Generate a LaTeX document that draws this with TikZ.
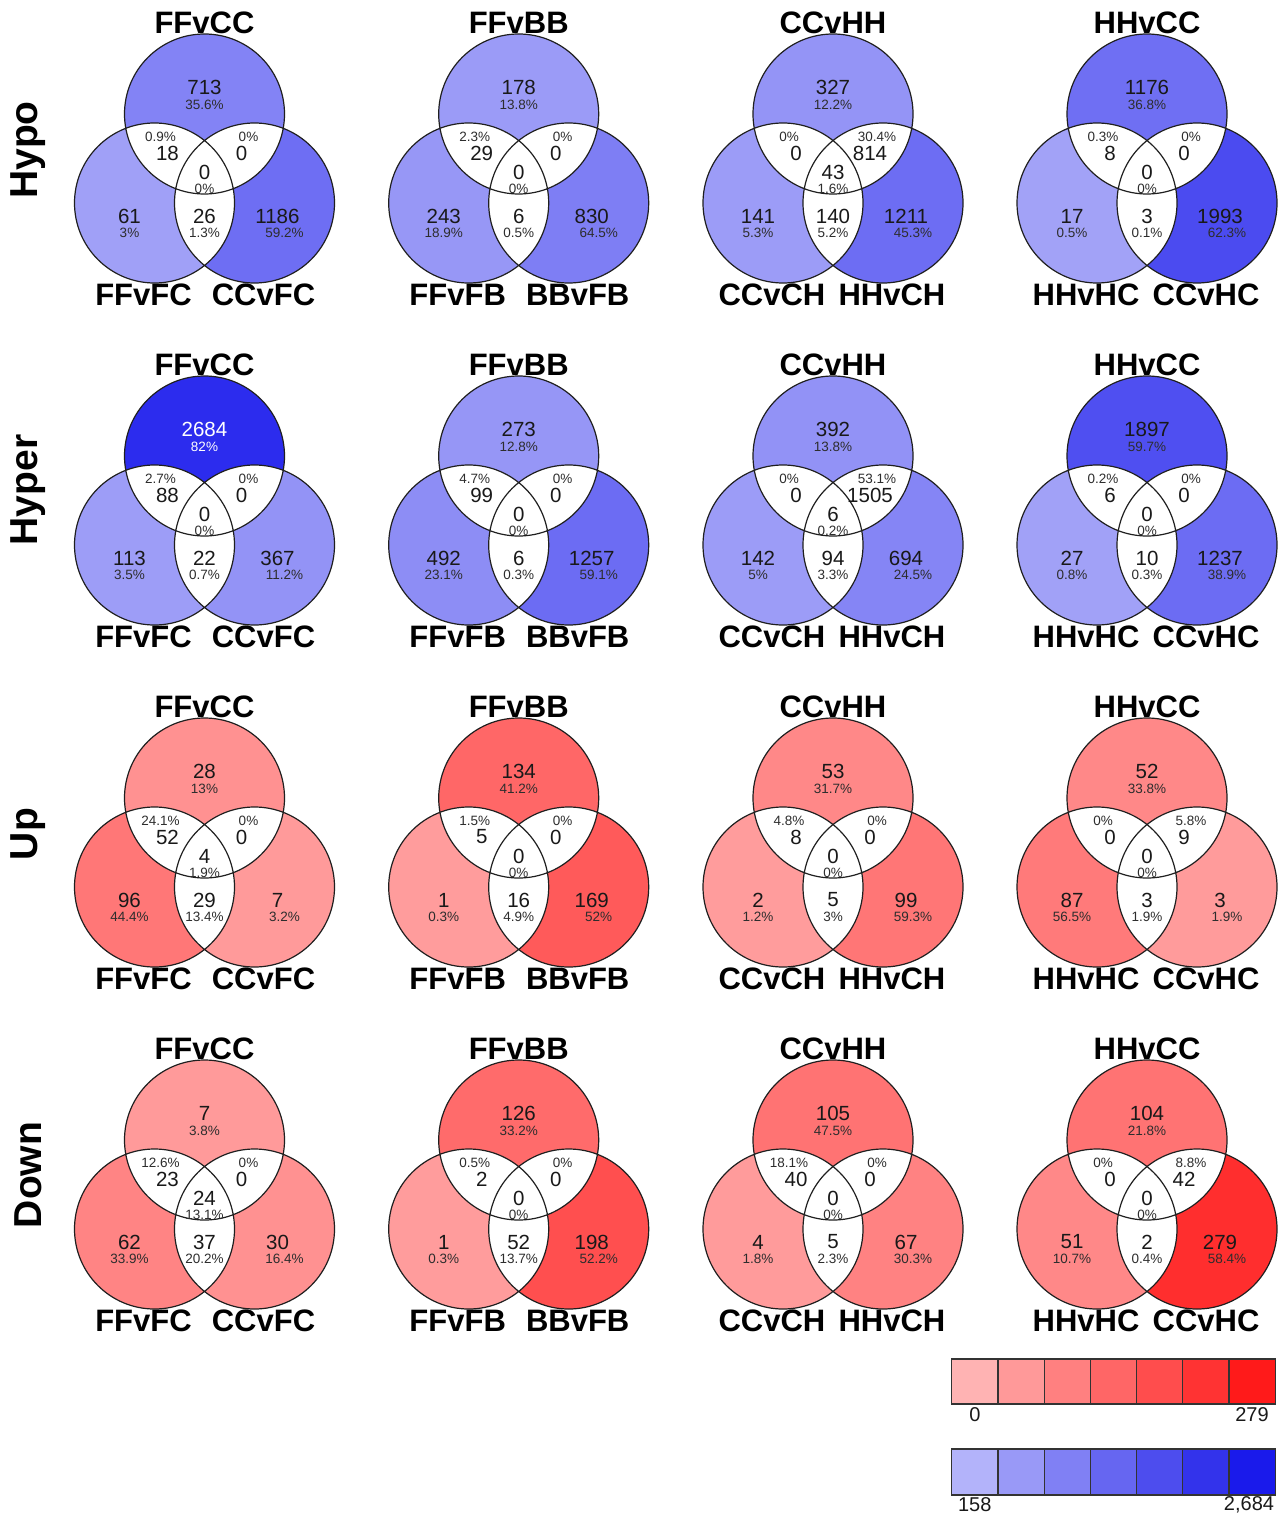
\documentclass[tikz,border=0pt]{standalone}
\usepackage{fontspec}
\setmainfont{Liberation Sans}
\definecolor{lob}{RGB}{162,162,247}
\definecolor{hib}{RGB}{44,44,238}
\definecolor{lor}{RGB}{255,156,156}
\definecolor{hir}{RGB}{255,46,46}
\definecolor{rA}{RGB}{255,179,179}
\definecolor{rB}{RGB}{255,153,153}
\definecolor{rC}{RGB}{255,128,128}
\definecolor{rD}{RGB}{255,102,102}
\definecolor{rE}{RGB}{255,77,77}
\definecolor{rF}{RGB}{255,51,51}
\definecolor{rG}{RGB}{255,26,26}
\definecolor{bA}{RGB}{179,179,250}
\definecolor{bB}{RGB}{153,153,247}
\definecolor{bC}{RGB}{128,128,244}
\definecolor{bD}{RGB}{102,102,241}
\definecolor{bE}{RGB}{77,77,238}
\definecolor{bF}{RGB}{51,51,235}
\definecolor{bG}{RGB}{26,26,235}
\definecolor{txt}{RGB}{25,25,25}
\definecolor{ptxt}{RGB}{45,45,45}
\begin{document}
\begin{tikzpicture}[x=1pt,y=-1pt,
  vline/.style={draw=black!88,line width=1.2pt},
  ttl/.style={inner sep=0pt,anchor=center,font=\fontsize{31}{36}\selectfont\bfseries,text=black},
  lab/.style={inner sep=0pt,anchor=center,font=\fontsize{31}{36}\selectfont\bfseries,text=black},
  rowlab/.style={inner sep=0pt,anchor=center,rotate=90,font=\fontsize{39}{44}\selectfont\bfseries,text=black},
  num/.style={inner sep=0pt,anchor=center,font=\fontsize{20.5}{23}\selectfont,text=txt},
  pct/.style={inner sep=0pt,anchor=center,font=\fontsize{13.5}{15}\selectfont,text=ptxt},
  leglab/.style={inner sep=0pt,anchor=center,font=\fontsize{20}{22}\selectfont,text=txt},
  cell/.style={draw=black!80,line width=1.2pt}]
\fill[white] (0,0) rectangle (1284,1517);
\useasboundingbox (0,0) rectangle (1284,1517);

\foreach \ix/\cx/\cy/\sch/\mxv/\ttl/\lla/\rla/\nt/\pct/\nl/\pcl/\nr/\pcr/\nul/\pul/\nur/\pur/\nc/\pcc/\nb/\pcb in {
 1/204.5/114/b/2684/FFvCC/FFvFC/CCvFC/713/35.6/61/3/1186/59.2/18/0.9/0/0/0/0/26/1.3,
 2/518.7/114/b/2684/FFvBB/FFvFB/BBvFB/178/13.8/243/18.9/830/64.5/29/2.3/0/0/0/0/6/0.5,
 3/833/114/b/2684/CCvHH/CCvCH/HHvCH/327/12.2/141/5.3/1211/45.3/0/0/814/30.4/43/1.6/140/5.2,
 4/1147/114/b/2684/HHvCC/HHvHC/CCvHC/1176/36.8/17/0.5/1993/62.3/8/0.3/0/0/0/0/3/0.1,
 5/204.5/456/b/2684/FFvCC/FFvFC/CCvFC/2684/82/113/3.5/367/11.2/88/2.7/0/0/0/0/22/0.7,
 6/518.7/456/b/2684/FFvBB/FFvFB/BBvFB/273/12.8/492/23.1/1257/59.1/99/4.7/0/0/0/0/6/0.3,
 7/833/456/b/2684/CCvHH/CCvCH/HHvCH/392/13.8/142/5/694/24.5/0/0/1505/53.1/6/0.2/94/3.3,
 8/1147/456/b/2684/HHvCC/HHvHC/CCvHC/1897/59.7/27/0.8/1237/38.9/6/0.2/0/0/0/0/10/0.3,
 9/204.5/798/r/279/FFvCC/FFvFC/CCvFC/28/13/96/44.4/7/3.2/52/24.1/0/0/4/1.9/29/13.4,
 10/518.7/798/r/279/FFvBB/FFvFB/BBvFB/134/41.2/1/0.3/169/52/5/1.5/0/0/0/0/16/4.9,
 11/833/798/r/279/CCvHH/CCvCH/HHvCH/53/31.7/2/1.2/99/59.3/8/4.8/0/0/0/0/5/3,
 12/1147/798/r/279/HHvCC/HHvHC/CCvHC/52/33.8/87/56.5/3/1.9/0/0/9/5.8/0/0/3/1.9,
 13/204.5/1140/r/279/FFvCC/FFvFC/CCvFC/7/3.8/62/33.9/30/16.4/23/12.6/0/0/24/13.1/37/20.2,
 14/518.7/1140/r/279/FFvBB/FFvFB/BBvFB/126/33.2/1/0.3/198/52.2/2/0.5/0/0/0/0/52/13.7,
 15/833/1140/r/279/CCvHH/CCvCH/HHvCH/105/47.5/4/1.8/67/30.3/40/18.1/0/0/0/0/5/2.3,
 16/1147/1140/r/279/HHvCC/HHvHC/CCvHC/104/21.8/51/10.7/279/58.4/0/0/42/8.8/0/0/2/0.4}{
  \pgfmathtruncatemacro{\fT}{\nt/\mxv*100}
  \pgfmathtruncatemacro{\fL}{\nl/\mxv*100}
  \pgfmathtruncatemacro{\fR}{\nr/\mxv*100}
  \ifnum\fT>85 \def\tcol{white}\def\pcol{white}\else\def\tcol{txt}\def\pcol{ptxt}\fi
  \coordinate (T\ix) at (\cx,\cy);
  \coordinate (L\ix) at (\cx-50,\cy+89);
  \coordinate (R\ix) at (\cx+50,\cy+89);
  \fill[hi\sch!\fT!lo\sch] (T\ix) circle[radius=80pt];
  \fill[hi\sch!\fL!lo\sch] (L\ix) circle[radius=80pt];
  \fill[hi\sch!\fR!lo\sch] (R\ix) circle[radius=80pt];
  \begin{scope}
    \clip (T\ix) circle[radius=80pt];
    \fill[white] (L\ix) circle[radius=80pt] (R\ix) circle[radius=80pt];
  \end{scope}
  \begin{scope}
    \clip (L\ix) circle[radius=80pt];
    \fill[white] (R\ix) circle[radius=80pt];
  \end{scope}
  \draw[vline] (T\ix) circle[radius=80pt] (L\ix) circle[radius=80pt] (R\ix) circle[radius=80pt];
  \node[ttl] (ttl\ix) at (\cx,\cy-91) {\ttl};
  \node[num,text=\tcol] (nt\ix) at (\cx,\cy-27) {\nt};
  \node[pct,text=\pcol] (pt\ix) at (\cx,\cy-9) {\pct\%};
  \node[pct] (pul\ix) at (\cx-44,\cy+23) {\pul\%};
  \node[num] (nul\ix) at (\cx-37,\cy+39) {\nul};
  \node[pct] (pur\ix) at (\cx+44,\cy+23) {\pur\%};
  \node[num] (nur\ix) at (\cx+37,\cy+39) {\nur};
  \node[num] (nc\ix) at (\cx,\cy+58) {\nc};
  \node[pct] (pc\ix) at (\cx,\cy+75) {\pcc\%};
  \node[num] (nb\ix) at (\cx,\cy+102) {\nb};
  \node[pct] (pb\ix) at (\cx,\cy+119) {\pcb\%};
  \node[num] (nl\ix) at (\cx-75,\cy+102) {\nl};
  \node[pct] (pl\ix) at (\cx-75,\cy+119) {\pcl\%};
  \node[num] (nr\ix) at (\cx+73,\cy+102) {\nr};
  \node[pct] (pr\ix) at (\cx+80,\cy+119) {\pcr\%};
  \node[lab] (la\ix) at (\cx-61,\cy+181) {\lla};
  \node[lab] (ra\ix) at (\cx+59,\cy+181) {\rla};
}

\node[rowlab] (hypo) at (28,150) {Hypo};
\node[rowlab] (hyper) at (28,490) {Hyper};
\node[rowlab] (up) at (28,834) {Up};
\node[rowlab] (down) at (28,1175) {Down};

% legend
\foreach \k/\c in {0/rA,1/rB,2/rC,3/rD,4/rE,5/rF,6/rG}{
  \filldraw[cell,fill=\c] (951.7+\k*46.2,1359) rectangle (951.7+\k*46.2+46.2,1404);
}
\foreach \k/\c in {0/bA,1/bB,2/bC,3/bD,4/bE,5/bF,6/bG}{
  \filldraw[cell,fill=\c] (951.7+\k*46.2,1449) rectangle (951.7+\k*46.2+46.2,1495);
}
\node[leglab] (r0) at (974.8,1415) {0};
\node[leglab] (r1) at (1252,1415) {279};
\node[leglab] (b0) at (974.8,1505) {158};
\node[leglab] (b1) at (1249,1505) {2,684};
\end{tikzpicture}
\end{document}
